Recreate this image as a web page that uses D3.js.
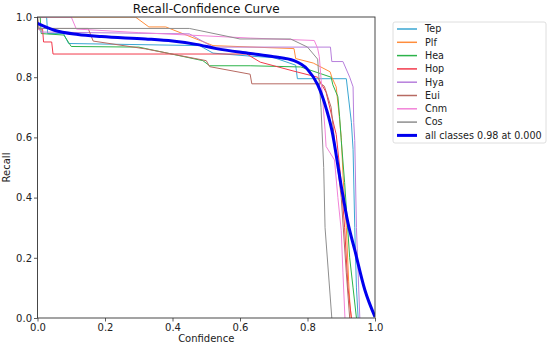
<!DOCTYPE html>
<html>
<head>
<meta charset="utf-8">
<script src="https://cdn.jsdelivr.net/npm/d3@7"></script>
<style>
  body { margin: 0; background: #fff; }
  svg { display: block; font-family: "DejaVu Sans", sans-serif; }
</style>
</head>
<body>
<svg id="chart" width="550" height="346"></svg>
<script>
// class names, in legend order
const classNames = ['Tep', 'Plf', 'Hea', 'Hop', 'Hya', 'Eui', 'Cnm', 'Cos'];

// [confidence, recall] points
const tep = [[0, 1], [0.027, 1], [0.03, 0.945], [0.077, 0.945], [0.092, 0.912], [0.48, 0.905], [0.52, 0.88], [0.63, 0.87], [0.7, 0.865], [0.765, 0.84], [0.77, 0.795], [0.915, 0.795], [0.93, 0.65], [0.935, 0.56], [0.94, 0.3], [0.945, 0.1], [0.95, 0]];
const plf = [[0, 1], [0.29, 1], [0.33, 0.967], [0.38, 0.967], [0.52, 0.905], [0.76, 0.895], [0.765, 0.862], [0.817, 0.847], [0.867, 0.818], [0.872, 0.8], [0.885, 0.768], [0.895, 0.66], [0.9, 0.6], [0.906, 0.458], [0.915, 0.3], [0.922, 0.12], [0.926, 0.04], [0.93, 0]];
const hea = [[0, 1], [0.008, 1], [0.011, 0.945], [0.078, 0.94], [0.1, 0.902], [0.3, 0.9], [0.49, 0.855], [0.51, 0.838], [0.63, 0.838], [0.78, 0.834], [0.87, 0.8], [0.875, 0.775], [0.89, 0.735], [0.895, 0.67], [0.9, 0.59], [0.91, 0.45], [0.925, 0.2], [0.935, 0.1], [0.945, 0]];
const hop = [[0, 0.96], [0.015, 0.96], [0.018, 0.917], [0.042, 0.917], [0.046, 0.877], [0.62, 0.877], [0.66, 0.85], [0.76, 0.82], [0.83, 0.8], [0.855, 0.75], [0.885, 0.61], [0.9, 0.45], [0.91, 0.3], [0.92, 0.1], [0.93, 0]];
const hya = [[0, 0.97], [0.01, 0.95], [0.45, 0.944], [0.52, 0.9], [0.868, 0.9], [0.872, 0.852], [0.905, 0.852], [0.925, 0.8], [0.935, 0.768], [0.937, 0.65], [0.94, 0.59], [0.945, 0.3], [0.955, 0]];
const eui = [[0, 1], [0.005, 0.962], [0.15, 0.962], [0.165, 0.92], [0.32, 0.894], [0.5, 0.855], [0.51, 0.835], [0.63, 0.81], [0.635, 0.778], [0.84, 0.778], [0.85, 0.77], [0.87, 0.7], [0.88, 0.59], [0.9, 0.4], [0.915, 0.15], [0.925, 0]];
const cnm = [[0, 1], [0.1, 1], [0.115, 0.96], [0.3, 0.948], [0.63, 0.93], [0.82, 0.922], [0.83, 0.896], [0.835, 0.868], [0.852, 0.625], [0.855, 0.57], [0.88, 0.525], [0.89, 0.4], [0.9, 0.29], [0.905, 0.15], [0.911, 0]];
const cos = [[0, 1], [0.002, 0.962], [0.45, 0.962], [0.6, 0.927], [0.75, 0.927], [0.8, 0.9], [0.83, 0.86], [0.84, 0.7], [0.848, 0.5], [0.852, 0.3], [0.872, 0]];
const allClasses = [[0, 0.979], [0.05, 0.956], [0.12, 0.942], [0.19, 0.935], [0.32, 0.927], [0.4, 0.92], [0.47, 0.909], [0.53, 0.895], [0.63, 0.879], [0.7, 0.868], [0.76, 0.855], [0.8, 0.826], [0.83, 0.775], [0.857, 0.69], [0.872, 0.625], [0.897, 0.458], [0.92, 0.315], [0.94, 0.226], [0.97, 0.093], [1, 0.004]];
const allLabel = 'all classes 0.98 at 0.000';

const classSeries = [tep, plf, hea, hop, hya, eui, cnm, cos];
const classColors = ['#3aa6d2', '#ff8d3c', '#2cb34a', '#f23a4c', '#b77fdc', '#b76a62', '#f283d8', '#8e8e8e'];

const xTicks = [0, 0.2, 0.4, 0.6, 0.8, 1.0];
const yTicks = [0, 0.2, 0.4, 0.6, 0.8, 1.0];

const svg = d3.select('#chart');
const margin = { top: 17, right: 175, bottom: 28, left: 37.5 };
const width = 550 - margin.left - margin.right;
const height = 346 - margin.top - margin.bottom;

const x = d3.scaleLinear().domain([0, 1]).range([0, width]);
const y = d3.scaleLinear().domain([0, 1]).range([height, 0]);

const g = svg.append('g').attr('transform', `translate(${margin.left},${margin.top})`);

// clip so lines sitting on the frame do not spill out
svg.append('defs').append('clipPath').attr('id', 'plotclip')
  .append('rect').attr('x', 0).attr('y', 0).attr('width', width).attr('height', height);

const line = d3.line().x(d => x(d[0])).y(d => y(d[1]));
const smooth = d3.line().x(d => x(d[0])).y(d => y(d[1])).curve(d3.curveMonotoneX);

const plot = g.append('g').attr('clip-path', 'url(#plotclip)');

plot.selectAll('path.cls')
  .data(classSeries)
  .enter()
  .append('path')
  .attr('class', 'cls')
  .attr('d', d => line(d))
  .attr('fill', 'none')
  .attr('stroke', (d, i) => classColors[i])
  .attr('stroke-width', 1);

plot.append('path')
  .attr('d', smooth(allClasses))
  .attr('fill', 'none')
  .attr('stroke', '#0000ee')
  .attr('stroke-width', 3);

// Axes
const xAxis = g.append('g')
  .attr('transform', `translate(0,${height})`)
  .call(d3.axisBottom(x).tickValues(xTicks).tickFormat(d3.format('.1f')).tickSize(3.5).tickPadding(2));
const yAxis = g.append('g')
  .call(d3.axisLeft(y).tickValues(yTicks).tickFormat(d3.format('.1f')).tickSize(3.5).tickPadding(2));

[xAxis, yAxis].forEach(a => {
  a.select('.domain').remove();
  a.selectAll('line').attr('stroke', '#333').attr('stroke-width', 0.8);
  a.selectAll('text').attr('fill', '#222').style('font-size', '10px').style('font-family', '"DejaVu Sans", sans-serif');
});

// frame
g.append('rect')
  .attr('width', width)
  .attr('height', height)
  .attr('fill', 'none')
  .attr('stroke', '#333')
  .attr('stroke-width', 0.9);

// Title and axis labels
svg.append('text')
  .attr('x', margin.left + width / 2)
  .attr('y', 13)
  .attr('text-anchor', 'middle')
  .style('font-size', '12px')
  .attr('fill', '#111')
  .text('Recall-Confidence Curve');

svg.append('text')
  .attr('x', margin.left + width / 2)
  .attr('y', 342)
  .attr('text-anchor', 'middle')
  .style('font-size', '10px')
  .attr('fill', '#222')
  .text('Confidence');

svg.append('text')
  .attr('transform', `translate(10,${margin.top + height / 2}) rotate(-90)`)
  .attr('text-anchor', 'middle')
  .style('font-size', '10px')
  .attr('fill', '#222')
  .text('Recall');

// Legend
const legend = svg.append('g').attr('transform', 'translate(393,22)');
legend.append('rect')
  .attr('width', 153)
  .attr('height', 121)
  .attr('rx', 2)
  .attr('fill', '#fff')
  .attr('stroke', '#d6d6d6')
  .attr('stroke-width', 0.8);

const legendItems = classNames.map((name, i) => ({ name, color: classColors[i], w: 1.5 }))
  .concat([{ name: allLabel, color: '#0000ee', w: 3 }]);

const item = legend.selectAll('g.item')
  .data(legendItems)
  .enter()
  .append('g')
  .attr('class', 'item')
  .attr('transform', (d, i) => `translate(0,${7 + i * 13.3})`);

item.append('line')
  .attr('x1', 4).attr('x2', 24)
  .attr('stroke', d => d.color)
  .attr('stroke-width', d => d.w);

item.append('text')
  .attr('x', 32)
  .attr('dy', '0.35em')
  .style('font-size', '9.6px')
  .attr('fill', '#222')
  .text(d => d.name);
</script>
</body>
</html>
